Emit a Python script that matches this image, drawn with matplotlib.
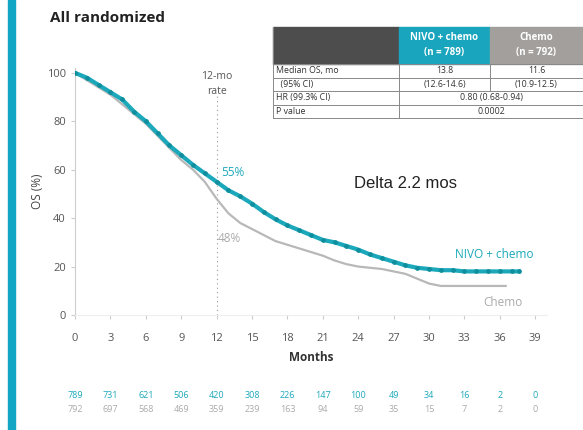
import matplotlib
matplotlib.use("Agg")
import matplotlib.pyplot as plt
from matplotlib.patches import Rectangle
from matplotlib.lines import Line2D

# ------------------ Data ------------------

months_nivo = [0, 1, 2, 3, 4, 5, 6, 7, 8, 9, 10, 11, 12, 13, 14, 15, 16, 17, 18,
               19, 20, 21, 22, 23, 24, 25, 26, 27, 28, 29, 30, 31, 32, 33, 34,
               35, 36, 37, 37.6]
os_nivo = [100, 98, 95, 92, 89, 84, 80, 75, 70, 66, 62, 58.5, 55, 51.5, 49, 46,
           42.5, 39.5, 37, 35, 33, 31, 30, 28.5, 27, 25, 23.5, 22, 20.5, 19.5,
           19, 18.5, 18.5, 18, 18, 18, 18, 18, 18]

months_chemo = [0, 1, 2, 3, 4, 5, 6, 7, 8, 9, 10, 11, 12, 13, 14, 15, 16, 17,
                18, 19, 20, 21, 22, 23, 24, 25, 26, 27, 28, 29, 30, 31, 32, 33,
                34, 35, 36, 36.5]
os_chemo = [100, 97, 94, 91, 87, 83, 79, 74, 69, 64, 60, 55, 48, 42, 38, 35.5,
            33, 30.5, 29, 27.5, 26, 24.5, 22.5, 21, 20, 19.5, 19, 18, 17, 15,
            13, 12, 12, 12, 12, 12, 12, 12]

risk_months = [0, 3, 6, 9, 12, 15, 18, 21, 24, 27, 30, 33, 36, 39]
risk_nivo = [789, 731, 621, 506, 420, 308, 226, 147, 100, 49, 34, 16, 2, 0]
risk_chemo = [792, 697, 568, 469, 359, 239, 163, 94, 59, 35, 15, 7, 2, 0]

row_labels = ["Median OS, mo", "  (95% CI)", "HR (99.3% CI)", "P value"]
nivo_vals = ["13.8", "(12.6-14.6)"]
chemo_vals = ["11.6", "(10.9-12.5)"]
hr_text = "0.80 (0.68-0.94)"
p_text = "0.0002"

TEAL = "#1ba8ba"
TEAL_DARK = "#0f8e9e"
GRAY = "#b8b8b8"

# ------------------ Figure ------------------

W, H = 583, 430
fig = plt.figure(figsize=(W / 100, H / 100), dpi=100)
plt.rcParams['font.family'] = ['Open Sans', 'DejaVu Sans']


def fx(px):
    return px / W


def fy(py):
    return 1 - py / H


# left accent bar
fig.patches.append(Rectangle((fx(8), 0), fx(7), 1, transform=fig.transFigure,
                             color="#12a6c4", zorder=0))

fig.text(fx(50), fy(18), "All randomized", fontsize=11, fontweight="bold",
         color="#222222", va="center", ha="left")

# axes: x 0..40 over px 75..547, y 0..102 over px 315..68
ax = fig.add_axes([fx(75), fy(315), (547 - 75) / W, (315 - 68) / H])
ax.set_xlim(0, 40)
ax.set_ylim(0, 102)

ax.plot(months_chemo, os_chemo, color=GRAY, lw=1.6, zorder=2)
ax.plot(months_nivo, os_nivo, color=TEAL, lw=3, zorder=3,
        marker="o", ms=2.4, mfc=TEAL_DARK, mec=TEAL_DARK)

ax.plot([12, 12], [0, 91], color="#999999", lw=0.8, ls=(0, (1, 3)), zorder=1)
ax.text(12, 95.5, "12-mo\nrate", ha="center", va="center", fontsize=7.5,
        color="#555555", linespacing=1.5)

ax.text(12.4, 59, "55%", color=TEAL, fontsize=8.5, va="center")
ax.text(12.1, 31.5, "48%", color="#aaaaaa", fontsize=8.5, va="center")
ax.text(32.2, 25, "NIVO + chemo", color=TEAL, fontsize=8.5, va="center")
ax.text(34.6, 5, "Chemo", color="#aaaaaa", fontsize=8.5, va="center")

ax.set_xticks(risk_months)
ax.set_yticks([0, 20, 40, 60, 80, 100])
ax.tick_params(axis="both", labelsize=8, colors="#cccccc", labelcolor="#555555",
               length=3, width=0.8)
ax.tick_params(axis="x", pad=10)
for side in ("top", "right"):
    ax.spines[side].set_visible(False)
ax.spines["left"].set_color("#cccccc")
ax.spines["bottom"].set_color("#eeeeee")
ax.set_xlabel("Months", fontsize=8.5, fontweight="bold", color="#333333",
              labelpad=5)
ax.set_ylabel("OS (%)", fontsize=8.5, color="#444444", labelpad=2)

# number at risk rows
for m, a, b in zip(risk_months, risk_nivo, risk_chemo):
    x = fx(75) + m / 40 * (547 - 75) / W
    fig.text(x, fy(395), str(a), ha="center", va="center", fontsize=6.5,
             color=TEAL)
    fig.text(x, fy(409), str(b), ha="center", va="center", fontsize=6.5,
             color="#aaaaaa")

# ------------------ Table ------------------

cols = [273, 399, 490, 583]
rows = [27, 64, 77.5, 91, 104.5, 118]


def rect(x0, y0, x1, y1, color):
    fig.patches.append(Rectangle((fx(x0), fy(y1)), (x1 - x0) / W,
                                 (y1 - y0) / H, transform=fig.transFigure,
                                 color=color, zorder=1))


def hline(y, x0, x1):
    fig.lines.append(Line2D([fx(x0), fx(x1)], [fy(y), fy(y)],
                            transform=fig.transFigure, color="#888888", lw=0.7))


def vline(x, y0, y1):
    fig.lines.append(Line2D([fx(x), fx(x)], [fy(y0), fy(y1)],
                            transform=fig.transFigure, color="#888888", lw=0.7))


rect(cols[0], rows[0], cols[1], rows[1], "#4d4d4d")
rect(cols[1], rows[0], cols[2], rows[1], "#18a5bd")
rect(cols[2], rows[0], cols[3], rows[1], "#a39f9c")

for y in rows[1:]:
    hline(y, cols[0], cols[3])
vline(cols[0], rows[0], rows[-1])
vline(cols[1], rows[1], rows[-1])
vline(cols[2], rows[1], rows[3])

hcy = (rows[0] + rows[1]) / 2
fig.text(fx((cols[1] + cols[2]) / 2), fy(hcy), "NIVO + chemo\n(n = 789)",
         ha="center", va="center", fontsize=7, color="white",
         fontweight="bold", linespacing=1.5)
fig.text(fx((cols[2] + cols[3]) / 2), fy(hcy), "Chemo\n(n = 792)",
         ha="center", va="center", fontsize=7, color="white",
         fontweight="bold", linespacing=1.5)

for i, lab in enumerate(row_labels):
    cy = (rows[i + 1] + rows[i + 2]) / 2
    fig.text(fx(cols[0] + 3), fy(cy), lab, ha="left", va="center",
             fontsize=6.3, color="#333333")
for i in range(2):
    cy = (rows[i + 1] + rows[i + 2]) / 2
    fig.text(fx((cols[1] + cols[2]) / 2), fy(cy), nivo_vals[i], ha="center",
             va="center", fontsize=6.3, color="#333333")
    fig.text(fx((cols[2] + cols[3]) / 2), fy(cy), chemo_vals[i], ha="center",
             va="center", fontsize=6.3, color="#333333")
for i, val in ((2, hr_text), (3, p_text)):
    cy = (rows[i + 1] + rows[i + 2]) / 2
    fig.text(fx((cols[1] + cols[3]) / 2), fy(cy), val, ha="center",
             va="center", fontsize=6.3, color="#333333")

fig.text(fx(406), fy(183), "Delta 2.2 mos", ha="center", va="center",
         fontsize=12, color="#222222", family=["Liberation Sans", "DejaVu Sans"])

fig.savefig("out.png", dpi=100, facecolor="white")
